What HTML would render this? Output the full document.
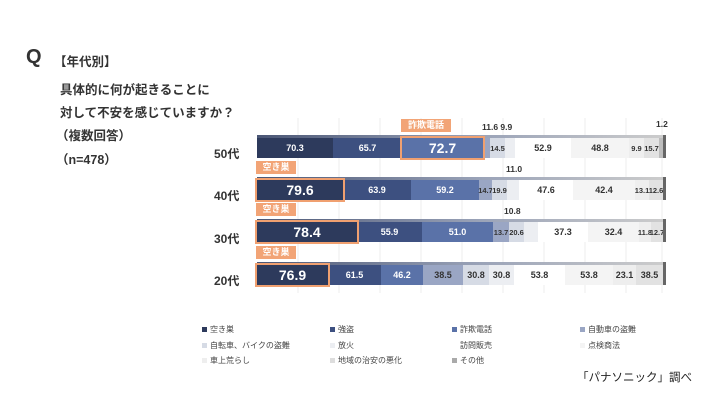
<!DOCTYPE html>
<html><head><meta charset="utf-8"><style>
body{margin:0;width:720px;height:403px;background:#fff;position:relative;overflow:hidden;font-family:"Liberation Sans","Noto Sans CJK JP",sans-serif;color:#222}
.a{position:absolute;white-space:nowrap}
.t{font-size:12.5px;font-weight:bold;color:#333}
.seg{position:absolute;top:0;height:100%;display:flex;align-items:center;justify-content:center;font-size:9px;font-weight:bold;overflow:visible;white-space:nowrap}
.bar{position:absolute;left:257px;width:406px;height:20px}
.tag{position:absolute;background:#f2a476;color:#fff;font-size:9px;font-weight:bold;text-align:center;height:13px;line-height:13px;z-index:3}
.hl{position:absolute;border:2px solid #f0a070;box-sizing:border-box;z-index:3}
.lg{position:absolute;font-size:8px;color:#444}
.lg i{display:inline-block;width:5px;height:5px;margin-right:3px;vertical-align:middle}
.rl{position:absolute;left:214px;font-size:12px;font-weight:bold;color:#333}
.sm{position:absolute;font-size:8.5px;font-weight:bold;color:#333}
</style></head><body>
<div class="a" style="left:26px;top:46px;font-size:20px;font-weight:bold;color:#333">Q</div>
<div class="a t" style="left:54px;top:51px">【年代別】</div>
<div class="a t" style="left:60px;top:79px">具体的に何が起きることに</div>
<div class="a t" style="left:60px;top:102px">対して不安を感じていますか？</div>
<div class="a t" style="left:56px;top:125px">（複数回答）</div>
<div class="a t" style="left:56px;top:149px">（n=478）</div>
<svg class="a" style="left:257px;top:118px" width="410" height="175">
<g stroke="#eee" stroke-width="1">
<line x1="41" y1="0" x2="41" y2="175"/><line x1="82" y1="0" x2="82" y2="175"/><line x1="123" y1="0" x2="123" y2="175"/><line x1="164" y1="0" x2="164" y2="175"/><line x1="205" y1="0" x2="205" y2="175"/><line x1="246" y1="0" x2="246" y2="175"/><line x1="287" y1="0" x2="287" y2="175"/><line x1="328" y1="0" x2="328" y2="175"/><line x1="369" y1="0" x2="369" y2="175"/><line x1="405" y1="0" x2="405" y2="175"/></g></svg>
<div id="c"></div>
<div class="rl" style="top:145px">50代</div>
<div class="rl" style="top:187px">40代</div>
<div class="rl" style="top:230px">30代</div>
<div class="rl" style="top:272px">20代</div>
<div class="sm" style="left:482px;top:122px">11.6 9.9</div>
<div class="sm" style="left:656px;top:119px">1.2</div>
<div class="sm" style="left:506px;top:164px">11.0</div>
<div class="sm" style="left:504px;top:206px">10.8</div>
<div class="lg" style="left:202px;top:324px"><i style="background:#2d3a5c"></i>空き巣</div>
<div class="lg" style="left:330px;top:324px"><i style="background:#3d5080"></i>強盗</div>
<div class="lg" style="left:452px;top:324px"><i style="background:#5a72a8"></i>詐欺電話</div>
<div class="lg" style="left:580px;top:324px"><i style="background:#9aa6c4"></i>自動車の盗難</div>
<div class="lg" style="left:202px;top:340px"><i style="background:#d6dbe5"></i>自転車、バイクの盗難</div>
<div class="lg" style="left:330px;top:340px"><i style="background:#eceef2"></i>放火</div>
<div class="lg" style="left:452px;top:340px"><i style="background:#fff"></i>訪問販売</div>
<div class="lg" style="left:580px;top:340px"><i style="background:#f4f4f4"></i>点検商法</div>
<div class="lg" style="left:202px;top:355px"><i style="background:#eee"></i>車上荒らし</div>
<div class="lg" style="left:330px;top:355px"><i style="background:#ddd"></i>地域の治安の悪化</div>
<div class="lg" style="left:452px;top:355px"><i style="background:#aaa"></i>その他</div>
<div class="a" style="left:577px;top:369px;font-size:11.5px;color:#222">「パナソニック」調べ</div>
<script>
var cols=["#2d3a5c","#3d5080","#5a72a8","#9aa6c4","#d6dbe5","#eceef2","#ffffff","#f4f4f4","#eeeeee","#e2e2e2","#bdbdbd"];
var rows=[
 {y:138,b:[76,69,81,7,15,10,56,58,15,15,4],l:["70.3","65.7","72.7","","14.5","","52.9","48.8","9.9","15.7",""],h:2,tag:"詐欺電話"},
 {y:180,b:[86,68,68,13,15,12,54,62,14,14,0],l:["79.6","63.9","59.2","14.7","19.9","","47.6","42.4","13.1","12.6",""],h:0,tag:"空き巣"},
 {y:222,b:[100,65,71,16,15,14,50,51,12,12,0],l:["78.4","55.9","51.0","13.7","20.6","","37.3","32.4","11.8","12.7",""],h:0,tag:"空き巣"},
 {y:265,b:[71,53,42,40,26,25,51,48,23,27,0],l:["76.9","61.5","46.2","38.5","30.8","30.8","53.8","53.8","23.1","38.5",""],h:0,tag:"空き巣"}];
var h="";
rows.forEach(function(r){
 var x=0;h+='<div class="bar" style="top:'+r.y+'px">';
 r.b.forEach(function(w,i){
  var big=(i==r.h);
  var fs=big?14:(w<18?7.5:9);
  h+='<div class="seg" style="left:'+x+'px;width:'+w+'px;background:'+cols[i]+';color:'+(i<3?'#fff':'#333')+';font-size:'+fs+'px">'+r.l[i]+'</div>';
  if(big){h+='<div class="hl" style="left:'+(x-2)+'px;top:-2px;width:'+(w+4)+'px;height:24px"></div><div class="tag" style="left:'+(x-1)+'px;top:-19px;width:'+(r.h==2?50:40)+'px">'+r.tag+'</div>';}
  x+=w;});
 h+='<div style="position:absolute;left:'+x+'px;top:-3px;width:3px;height:23px;background:#666"></div>';
 h+='<div style="position:absolute;left:0;top:-3px;width:'+x+'px;height:3px;background:linear-gradient(90deg,#4a5675,#9aa3b8 55%,#ccc)"></div>';
 h+='</div>';});
document.getElementById("c").innerHTML=h;
</script>
</body></html>
